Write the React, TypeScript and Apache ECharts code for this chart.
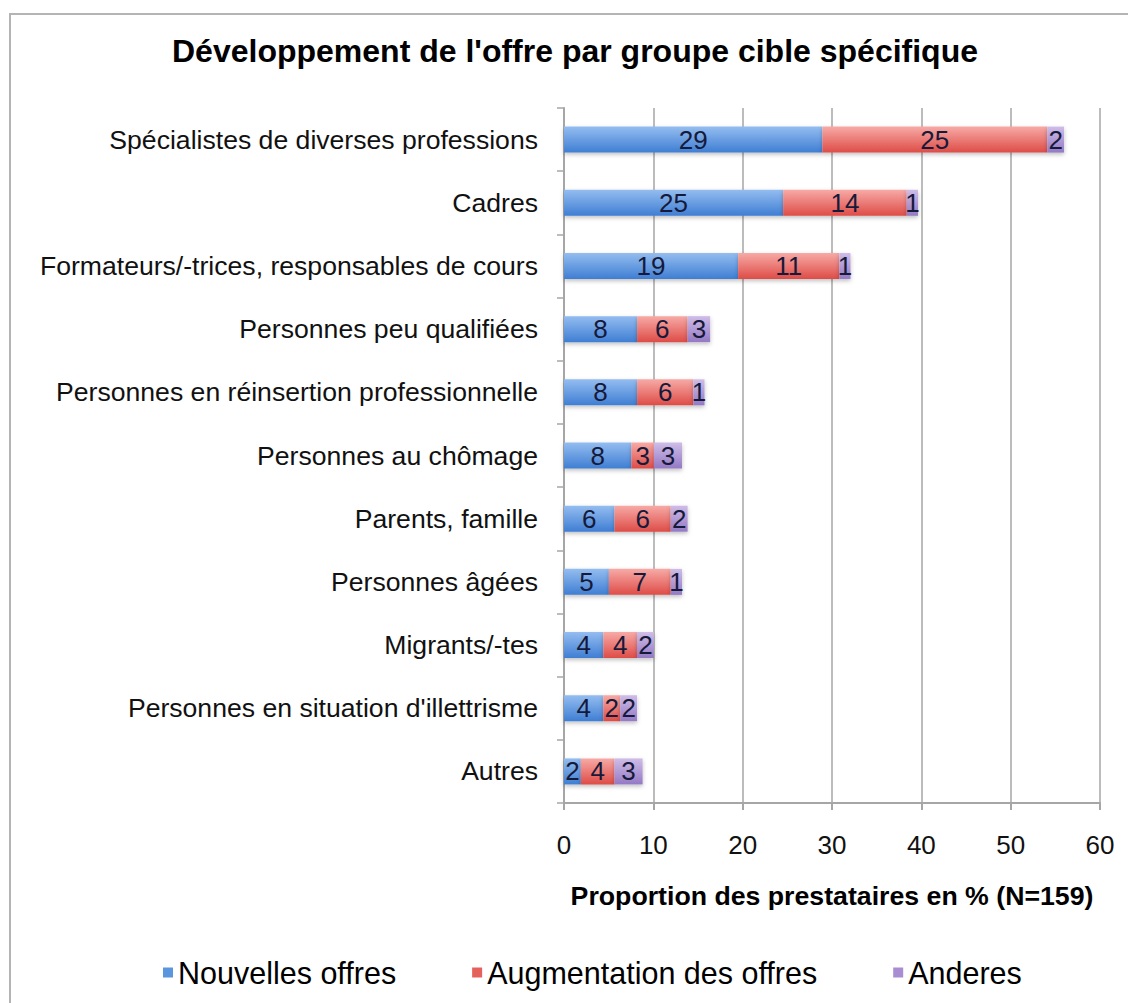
import React, { useEffect, useRef } from "react";
import * as echarts from "echarts";

const categories = [
  "Spécialistes de diverses professions",
  "Cadres",
  "Formateurs/-trices, responsables de cours",
  "Personnes peu qualifiées",
  "Personnes en réinsertion professionnelle",
  "Personnes au chômage",
  "Parents, famille",
  "Personnes âgées",
  "Migrants/-tes",
  "Personnes en situation d'illettrisme",
  "Autres",
];

const nouvellesOffres = [28.93, 24.53, 19.49, 8.18, 8.18, 7.55, 5.66, 5.03, 4.4, 4.4, 1.89];
const augmentationOffres = [25.16, 13.84, 11.32, 5.66, 6.29, 2.52, 6.29, 6.92, 3.77, 1.89, 3.77];
const anderes = [1.89, 1.26, 1.26, 2.52, 1.26, 3.14, 1.89, 1.26, 1.89, 1.89, 3.14];

const xTicks = [0, 10, 20, 30, 40, 50, 60];

const FONT = "'Liberation Sans', Arial, Helvetica, sans-serif";

function grad(top: string, bottom: string) {
  return new echarts.graphic.LinearGradient(0, 0, 0, 1, [
    { offset: 0, color: top },
    { offset: 1, color: bottom },
  ]);
}

export default function App() {
  const ref = useRef<HTMLDivElement>(null);
  useEffect(() => {
    if (!ref.current) return;
    const chart = echarts.init(ref.current, undefined, { renderer: "svg" });
    const label = {
      show: true,
      position: "inside" as const,
      color: "#161a3a",
      fontSize: 26,
      fontFamily: FONT,
      formatter: (p: any) => String(Math.round(p.value)),
    };
    const shadow = {
      shadowColor: "rgba(0,0,0,0.25)",
      shadowBlur: 4,
      shadowOffsetY: 2,
    };
    chart.setOption({
      animation: false,
      backgroundColor: "#ffffff",
      title: {
        text: "Développement de l'offre par groupe cible spécifique",
        left: 167,
        top: 30,
        textStyle: { fontFamily: FONT, fontSize: 32, fontWeight: "bold", color: "#000" },
      },
      graphic: [
        {
          type: "rect",
          shape: { x: 10, y: 14, width: 1130, height: 1000 },
          style: { fill: "none", stroke: "#b4b4b4", lineWidth: 2 },
          silent: true,
        },
      ],
      legend: {
        left: 158,
        top: 952,
        itemWidth: 10,
        itemHeight: 10,
        itemGap: 76,
        icon: "rect",
        textStyle: { fontFamily: FONT, fontSize: 30.5, color: "#000" },
        data: [
          { name: "Nouvelles offres", itemStyle: { color: "#5b95de" } },
          { name: "Augmentation des offres", itemStyle: { color: "#e4615c" } },
          { name: "Anderes", itemStyle: { color: "#a88dd2" } },
        ],
      },
      grid: { left: 564, right: 28, top: 108, bottom: 200, containLabel: false },
      xAxis: {
        type: "value",
        min: xTicks[0],
        max: xTicks[xTicks.length - 1],
        interval: 10,
        name: "Proportion des prestataires en % (N=159)",
        nameLocation: "middle",
        nameGap: 79,
        nameTextStyle: { fontFamily: FONT, fontSize: 26.7, fontWeight: "bold", color: "#000" },
        axisLine: { show: true, lineStyle: { color: "#a6a6a6", width: 2 } },
        axisTick: { show: true, length: 7, lineStyle: { color: "#a6a6a6", width: 2 } },
        splitLine: { show: true, lineStyle: { color: "#a6a6a6", width: 1.5 } },
        axisLabel: { fontFamily: FONT, fontSize: 26, color: "#111", margin: 29 },
      },
      yAxis: {
        type: "category",
        inverse: true,
        data: categories,
        axisLine: { show: true, lineStyle: { color: "#a6a6a6", width: 2 } },
        axisTick: { show: true, length: 7, lineStyle: { color: "#a6a6a6", width: 1.5 } },
        axisLabel: { fontFamily: FONT, fontSize: 26.6, color: "#111", margin: 26 },
      },
      series: [
        {
          name: "Nouvelles offres",
          type: "bar",
          stack: "total",
          barWidth: 26,
          data: nouvellesOffres,
          label,
          itemStyle: { color: grad("#94bdf0", "#3f7ed3"), ...shadow },
        },
        {
          name: "Augmentation des offres",
          type: "bar",
          stack: "total",
          barWidth: 26,
          data: augmentationOffres,
          label,
          itemStyle: { color: grad("#f7aaa6", "#de4c47"), ...shadow },
        },
        {
          name: "Anderes",
          type: "bar",
          stack: "total",
          barWidth: 26,
          data: anderes,
          label,
          itemStyle: { color: grad("#cfbde8", "#9479c4"), ...shadow },
        },
      ],
    });
    return () => chart.dispose();
  }, []);
  return (
    <div
      ref={ref}
      style={{ position: "absolute", left: 0, top: 0, width: 1128, height: 1003 }}
    />
  );
}
